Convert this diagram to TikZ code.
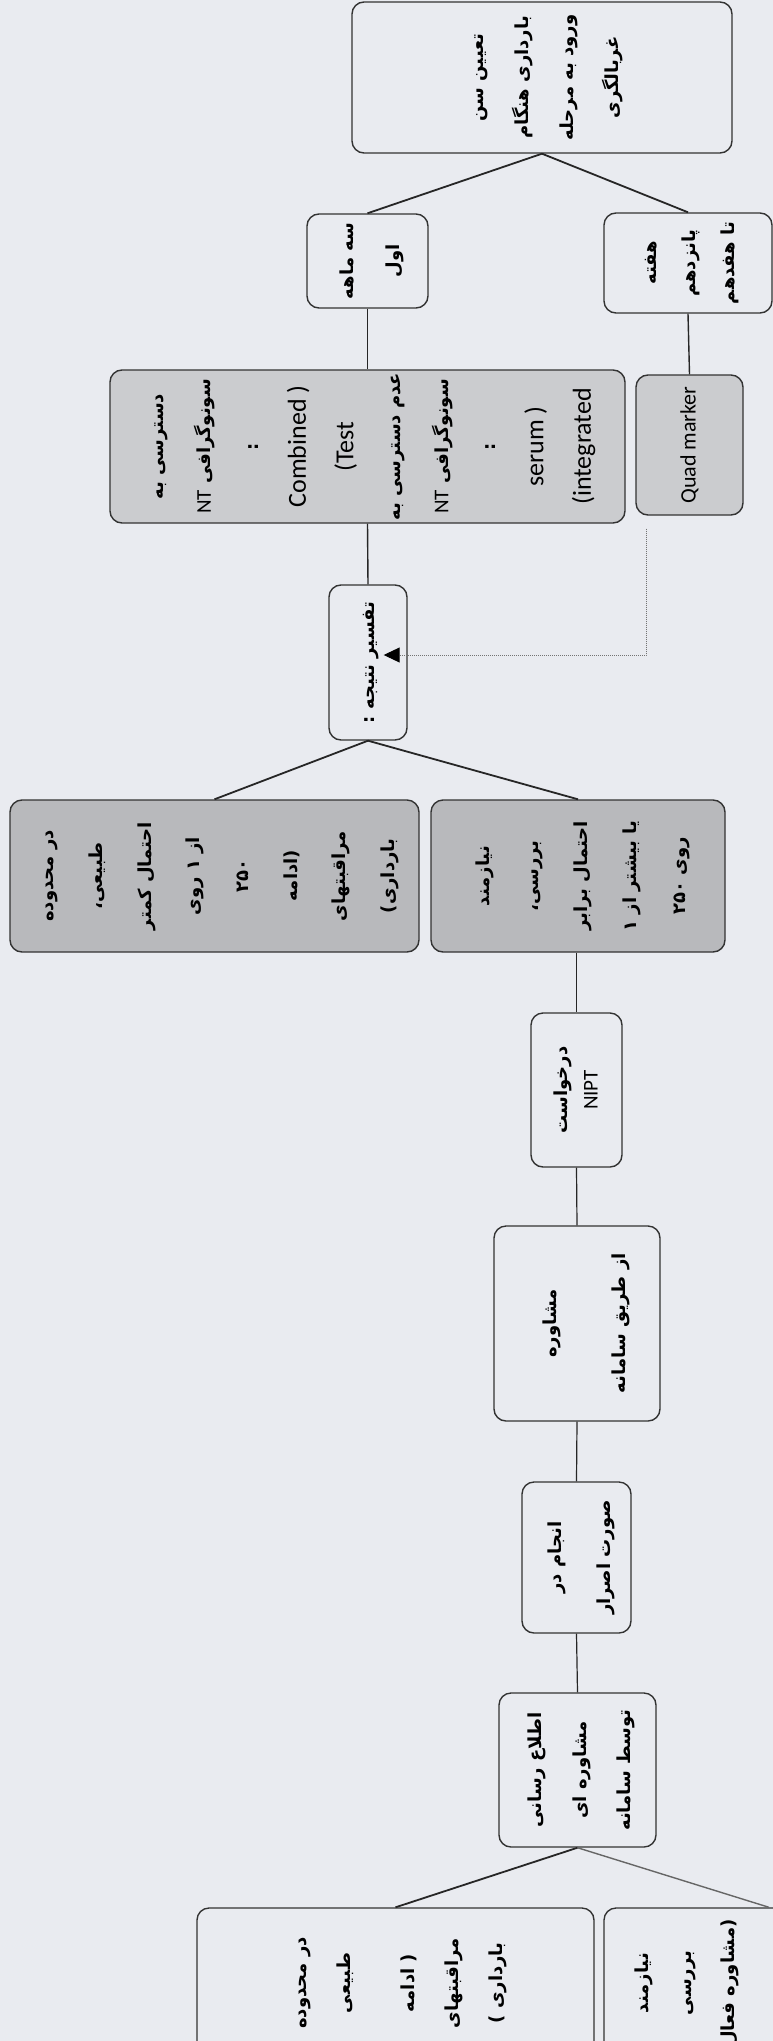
\documentclass[tikz,border=0pt]{standalone}
\usepackage{fontspec}
\usetikzlibrary{arrows.meta}
\TeXXeTstate=1
\newfontfamily\fafont[Script=Arabic]{DejaVu Sans}
\newfontfamily\enfont{Carlito}
\definecolor{paper}{HTML}{E9EBF0}
\definecolor{lightfill}{HTML}{CBCCCF}
\definecolor{darkfill}{HTML}{B8B9BC}
\newcommand{\fa}[1]{\beginR #1\endR}
\newcommand{\lr}[1]{\beginL #1\endL{}}
\newcommand{\en}[2]{{\enfont\mdseries\fontsize{#1}{#1}\selectfont #2}}
% text turned a quarter turn, lines #1 apart
\newcommand{\sidetext}[2]{\rotatebox{90}{\fafont\bfseries\fontsize{18}{#1}\selectfont\begin{tabular}{@{}c@{}}#2\end{tabular}}}

\begin{document}
\begin{tikzpicture}[x=1pt,y=-1pt,
  box/.style={draw=black!80,line width=1.4pt,rounded corners=12pt,inner sep=0pt,fill=paper},
  shaded/.style={box,fill=lightfill},
  dark/.style={box,fill=darkfill},
  link/.style={black!85,line width=1.8pt},
  hint/.style={black!55,line width=1pt,densely dotted,-{Triangle[length=16pt,width=15pt,color=black]}}]
\useasboundingbox (0,0) rectangle (773,2041);
\fill[paper] (0,0) rectangle (773,2041);
\clip (0,0) rectangle (773,2041);

\node[box,minimum width=380pt,minimum height=151pt] (age) at (542,77.5)
  {\sidetext{45}{\fa{تعیین سن}\\\fa{بارداری هنگام}\\\fa{ورود به مرحله}\\\fa{غربالگری}}};
\node[box,minimum width=121pt,minimum height=94pt] (first) at (367.5,261)
  {\sidetext{46}{\fa{سه ماهه}\\\fa{اول}}};
\node[box,minimum width=168pt,minimum height=100pt] (week) at (688,263)
  {\sidetext{39}{\fa{هفته}\\\fa{پانزدهم}\\\fa{تا هفدهم}}};

\node[shaded,minimum width=515pt,minimum height=153pt] (combined) at (367.5,446.5)
  {\sidetext{47.5}{\fa{دسترسی به}\\\fa{سونوگرافی \lr{\en{21}{NT}}}\\:\\\en{26}{Combined )}\\\en{26}{(Test}\\
   \fa{عدم دسترسی به}\\\fa{سونوگرافی \lr{\en{21}{NT}}}\\:\\\en{26}{serum )}\\\en{26}{(integrated}}};
\node[shaded,minimum width=107pt,minimum height=140pt] (quad) at (689.5,445)
  {\sidetext{30}{\en{22}{Quad marker}}};

\node[box,minimum width=78pt,minimum height=155pt] (result) at (368,662.5)
  {\sidetext{30}{\fa{تفسیر نتیجه :}}};

\node[dark,minimum width=409pt,minimum height=152pt] (normal) at (214.5,876)
  {\sidetext{48.7}{\fa{در محدوده}\\\fa{طبیعی،}\\\fa{احتمال کمتر}\\\fa{از \lr{۱} روی}\\\fa{\lr{۲۵۰}}\\\fa{(ادامه}\\\fa{مراقبتهای}\\\fa{بارداری)}}};
\node[dark,minimum width=294pt,minimum height=152pt] (risk) at (578,876)
  {\sidetext{49}{\fa{نیازمند}\\\fa{بررسی،}\\\fa{احتمال برابر}\\\fa{یا بیشتر از \lr{۱}}\\\fa{روی \lr{۲۵۰}}}};

\node[box,minimum width=91pt,minimum height=154pt] (nipt) at (576.5,1090)
  {\sidetext{30}{\fa{درخواست}\\\en{21}{NIPT}}};
\node[box,minimum width=166pt,minimum height=195pt] (counsel) at (577,1323.5)
  {\sidetext{69}{\fa{مشاوره}\\\fa{از طریق سامانه}}};
\node[box,minimum width=109pt,minimum height=151pt] (insist) at (576.5,1557.5)
  {\sidetext{49}{\fa{انجام در}\\\fa{صورت اصرار}}};
\node[box,minimum width=157pt,minimum height=154pt] (inform) at (577.5,1770)
  {\sidetext{44.5}{\fa{اطلاع رسانی}\\\fa{مشاوره ای}\\\fa{توسط سامانه}}};

\node[box,minimum width=397pt,minimum height=150pt] (normal2) at (395.5,1983)
  {\sidetext{44}{\fa{در محدوده}\\\fa{طبیعی}\\[20pt]\fa{( ادامه}\\\fa{مراقبتهای}\\\fa{بارداری )}}};
\node[box,minimum width=330pt,minimum height=150pt] (risk2) at (769,1983)
  {\sidetext{43}{\fa{نیازمند}\\\fa{بررسی}\\\fa{(مشاوره فعال}\\\phantom{x}\\\phantom{x}\\\phantom{x}\\\phantom{x}}};

\draw[link] (age.south) -- (first.north);
\draw[link] (age.south) -- (week.north);
\draw[link,line width=1.4pt] (first.south) -- (combined.north);
\draw[link,line width=1.4pt] (week.south) -- (quad.north);
\draw[link,line width=1.4pt] (combined.south) -- (result.north);
\draw[link] (result.south) -- (normal.north);
\draw[link] (result.south) -- (risk.north);
\draw[link,line width=1.2pt] (risk.south -| nipt.north) -- (nipt.north);
\draw[link,line width=1.2pt] (nipt.south) -- (counsel.north);
\draw[link,line width=1.2pt] (counsel.south) -- (insist.north);
\draw[link,line width=1.2pt] (insist.south) -- (inform.north);
\draw[link] (inform.south) -- (normal2.north);
\draw[link,black!60,line width=1.4pt] (inform.south) -- (risk2.north);

\coordinate (quadout) at ([xshift=11pt,yshift=-13pt]quad.south west);
\coordinate (resultin) at ([xshift=-24pt,yshift=7.5pt]result.east);
\draw[hint] (quadout) |- (resultin);
\end{tikzpicture}
\end{document}
